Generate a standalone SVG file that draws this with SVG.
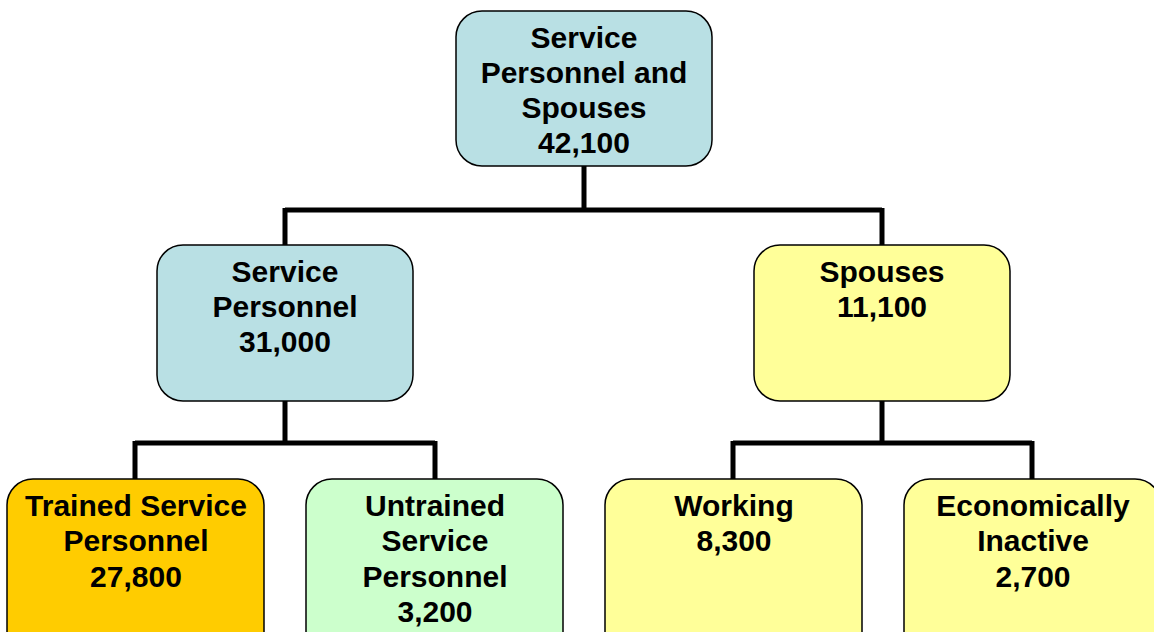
<svg xmlns="http://www.w3.org/2000/svg" width="1154" height="632" viewBox="0 0 1154 632">
<style>
.box{stroke:#000;stroke-width:1.5}
.blue{fill:#B9E0E4}
.gold{fill:#FFCC00}
.green{fill:#CCFFCC}
.yellow{fill:#FFFF99}
text{font-family:"Liberation Sans",Arial,sans-serif;font-weight:bold;font-size:30px;fill:#000;text-anchor:middle}
.conn{fill:none;stroke:#000;stroke-width:5;stroke-linecap:butt;stroke-linejoin:miter}
</style>
<rect width="1154" height="632" fill="#fff"/>
<g id="connectors">
<path class="conn" d="M584 166 V210 M285 210 H882 M285 208 V245 M882 208 V245"/>
<path class="conn" d="M285 401 V443 M135 443 H435 M135 441 V479 M435 441 V479"/>
<path class="conn" d="M882 401 V443 M733 443 H1032 M733 441 V479 M1032 441 V479"/>
</g>
<g id="node-total">
<rect class="box blue" x="456" y="11" width="256" height="155" rx="26"/>
<text x="584" y="48">Service</text>
<text x="584" y="83">Personnel and</text>
<text x="584" y="118">Spouses</text>
<text x="584" y="153">42,100</text>
</g>
<g id="node-service">
<rect class="box blue" x="157" y="245" width="256" height="156" rx="26"/>
<text x="285" y="282">Service</text>
<text x="285" y="317">Personnel</text>
<text x="285" y="352">31,000</text>
</g>
<g id="node-spouses">
<rect class="box yellow" x="754" y="245" width="256" height="156" rx="26"/>
<text x="882" y="282">Spouses</text>
<text x="882" y="317">11,100</text>
</g>
<g id="node-trained">
<rect class="box gold" x="7" y="479" width="257" height="180" rx="26"/>
<text x="136" y="516">Trained Service</text>
<text x="136" y="551">Personnel</text>
<text x="136" y="587">27,800</text>
</g>
<g id="node-untrained">
<rect class="box green" x="306" y="479" width="257" height="180" rx="26"/>
<text x="435" y="516">Untrained</text>
<text x="435" y="551">Service</text>
<text x="435" y="587">Personnel</text>
<text x="435" y="622">3,200</text>
</g>
<g id="node-working">
<rect class="box yellow" x="605" y="479" width="257" height="180" rx="26"/>
<text x="734" y="516">Working</text>
<text x="734" y="551">8,300</text>
</g>
<g id="node-inactive">
<rect class="box yellow" x="904" y="479" width="257" height="180" rx="26"/>
<text x="1033" y="516">Economically</text>
<text x="1033" y="551">Inactive</text>
<text x="1033" y="587">2,700</text>
</g>
</svg>
